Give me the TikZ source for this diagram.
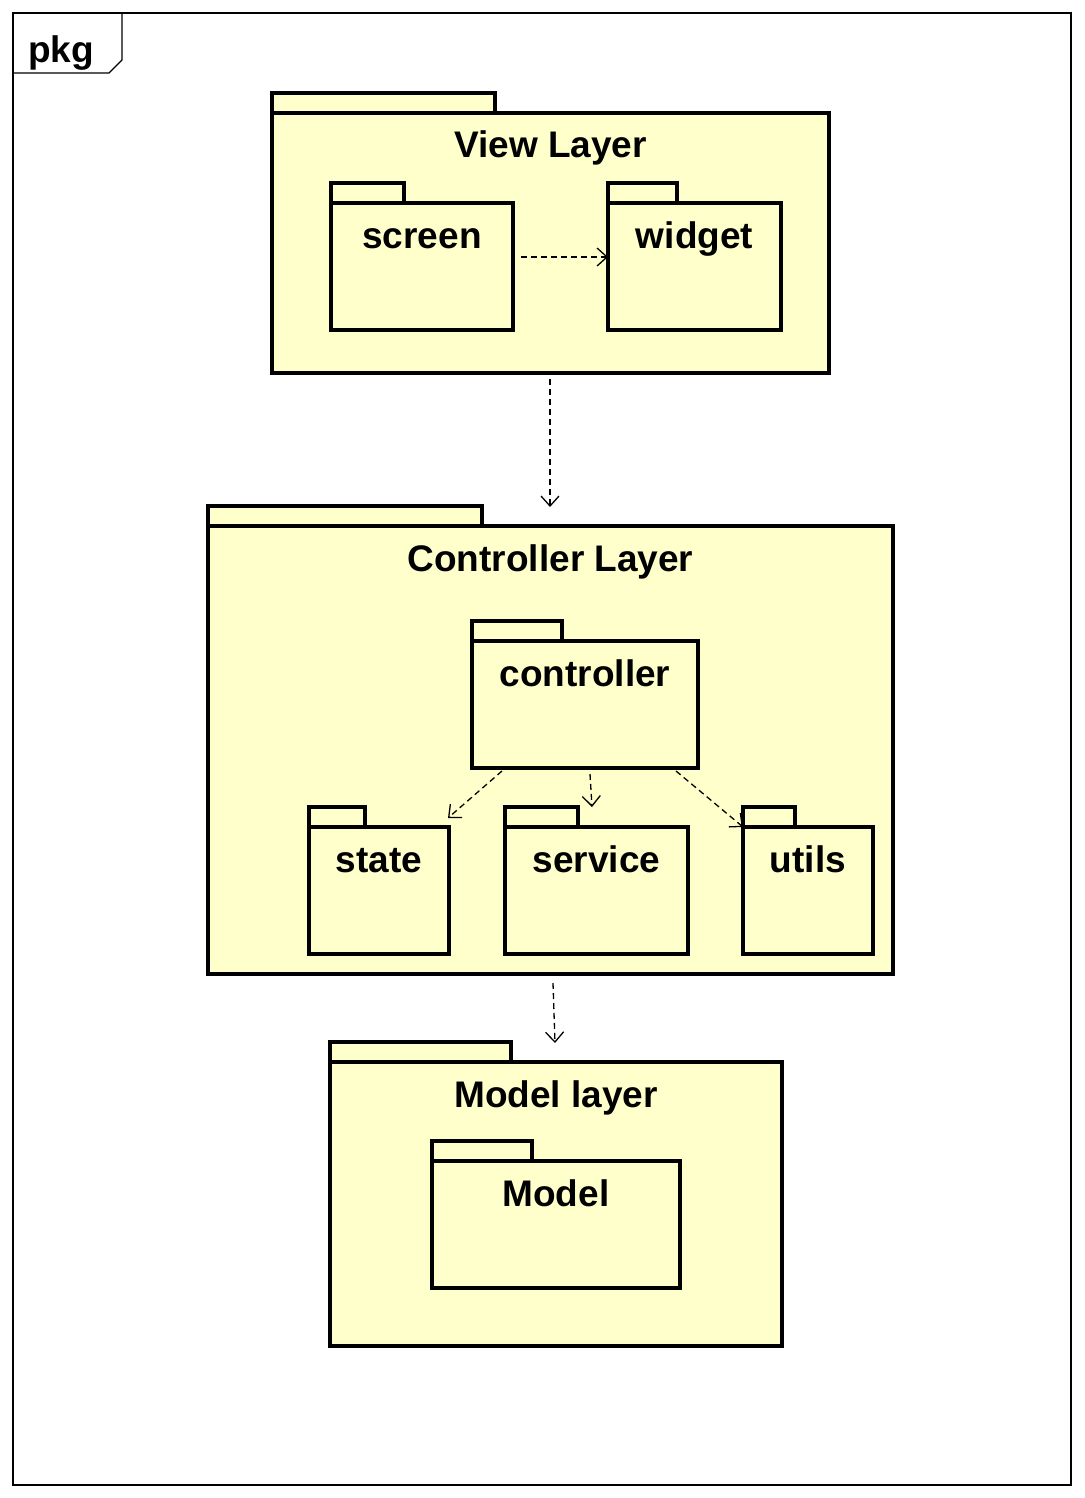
\documentclass[tikz,border=0pt]{standalone}
\usepackage{fontspec}
\setmainfont{Liberation Sans}
\usetikzlibrary{arrows.meta}
\begin{document}
\begin{tikzpicture}[x=1pt,y=-1pt,
  pkgline/.style={draw=black,line width=3.3pt,fill=pkgfill},
  lbl/.style={font=\fontsize{37}{44}\selectfont\bfseries,anchor=base,inner sep=0pt},
  dep/.style={draw=black,line width=1.3pt,dash pattern=on 6pt off 4pt,-{Straight Barb[length=10pt,width=18pt,line width=1.3pt]}},
  box/.style={pkgline,rectangle,inner sep=0pt,outer sep=0pt,anchor=north west}]
\definecolor{pkgfill}{HTML}{FFFFCC}
\useasboundingbox (0,0) rectangle (1084,1498);
\fill[white] (0,0) rectangle (1084,1498);
% frame
\draw[line width=1.3pt] (13,13) rectangle (1071,1485);
\draw[line width=1.3pt] (13,73) -- (109,73) -- (122,60) -- (122,13);
\node[lbl,anchor=base west] (pkgT) at (28,63) {pkg};
\newcommand{\mypkg}[8]{% name, tabx1,taby1,tabx2, bodyy1, bodyx2, bodyy2, text
  \draw[pkgline] (#2,#3) rectangle (#4,#5);
  \node[box,minimum width={(#6-#2)*1pt},minimum height={(#7-#5)*1pt}] (#1) at (#2,#5) {};
  \node[lbl] (#1T) at ({(#2+#6)/2},{#5+45}) {#8};
}
\mypkg{view}{272}{93}{495}{113}{829}{373}{View Layer}
\mypkg{screen}{331}{183}{404}{203}{513}{330}{screen}
\mypkg{widget}{608}{183}{677}{203}{781}{330}{widget}
\mypkg{ctrl}{208}{506}{482}{526}{893}{974}{Controller Layer}
\mypkg{controller}{472}{621}{562}{641}{698}{768}{controller}
\mypkg{state}{309}{807}{365}{827}{449}{954}{state}
\mypkg{service}{505}{807}{578}{827}{688}{954}{service}
\mypkg{utils}{743}{807}{795}{827}{873}{954}{utils}
\mypkg{model}{330}{1042}{511}{1062}{782}{1346}{Model layer}
\mypkg{Model}{432}{1141}{532}{1161}{680}{1288}{Model}
\coordinate (a1) at (521,257);
\coordinate (a2) at (608,257);
\coordinate (b1) at (550,379);
\coordinate (b2) at (550,507);
\coordinate (c1) at (502,771);
\coordinate (c2) at (448,818);
\coordinate (d1) at (590,774);
\coordinate (d2) at (592,807);
\coordinate (e1) at (676,771);
\coordinate (e2) at (743,827);
\coordinate (f1) at (553,983);
\coordinate (f2) at (555,1043);
\draw[dep] (a1) -- (a2);
\draw[dep] (b1) -- (b2);
\draw[dep] (c1) -- (c2);
\draw[dep] (d1) -- (d2);
\draw[dep] (e1) -- (e2);
\draw[dep] (f1) -- (f2);
\end{tikzpicture}
\end{document}
